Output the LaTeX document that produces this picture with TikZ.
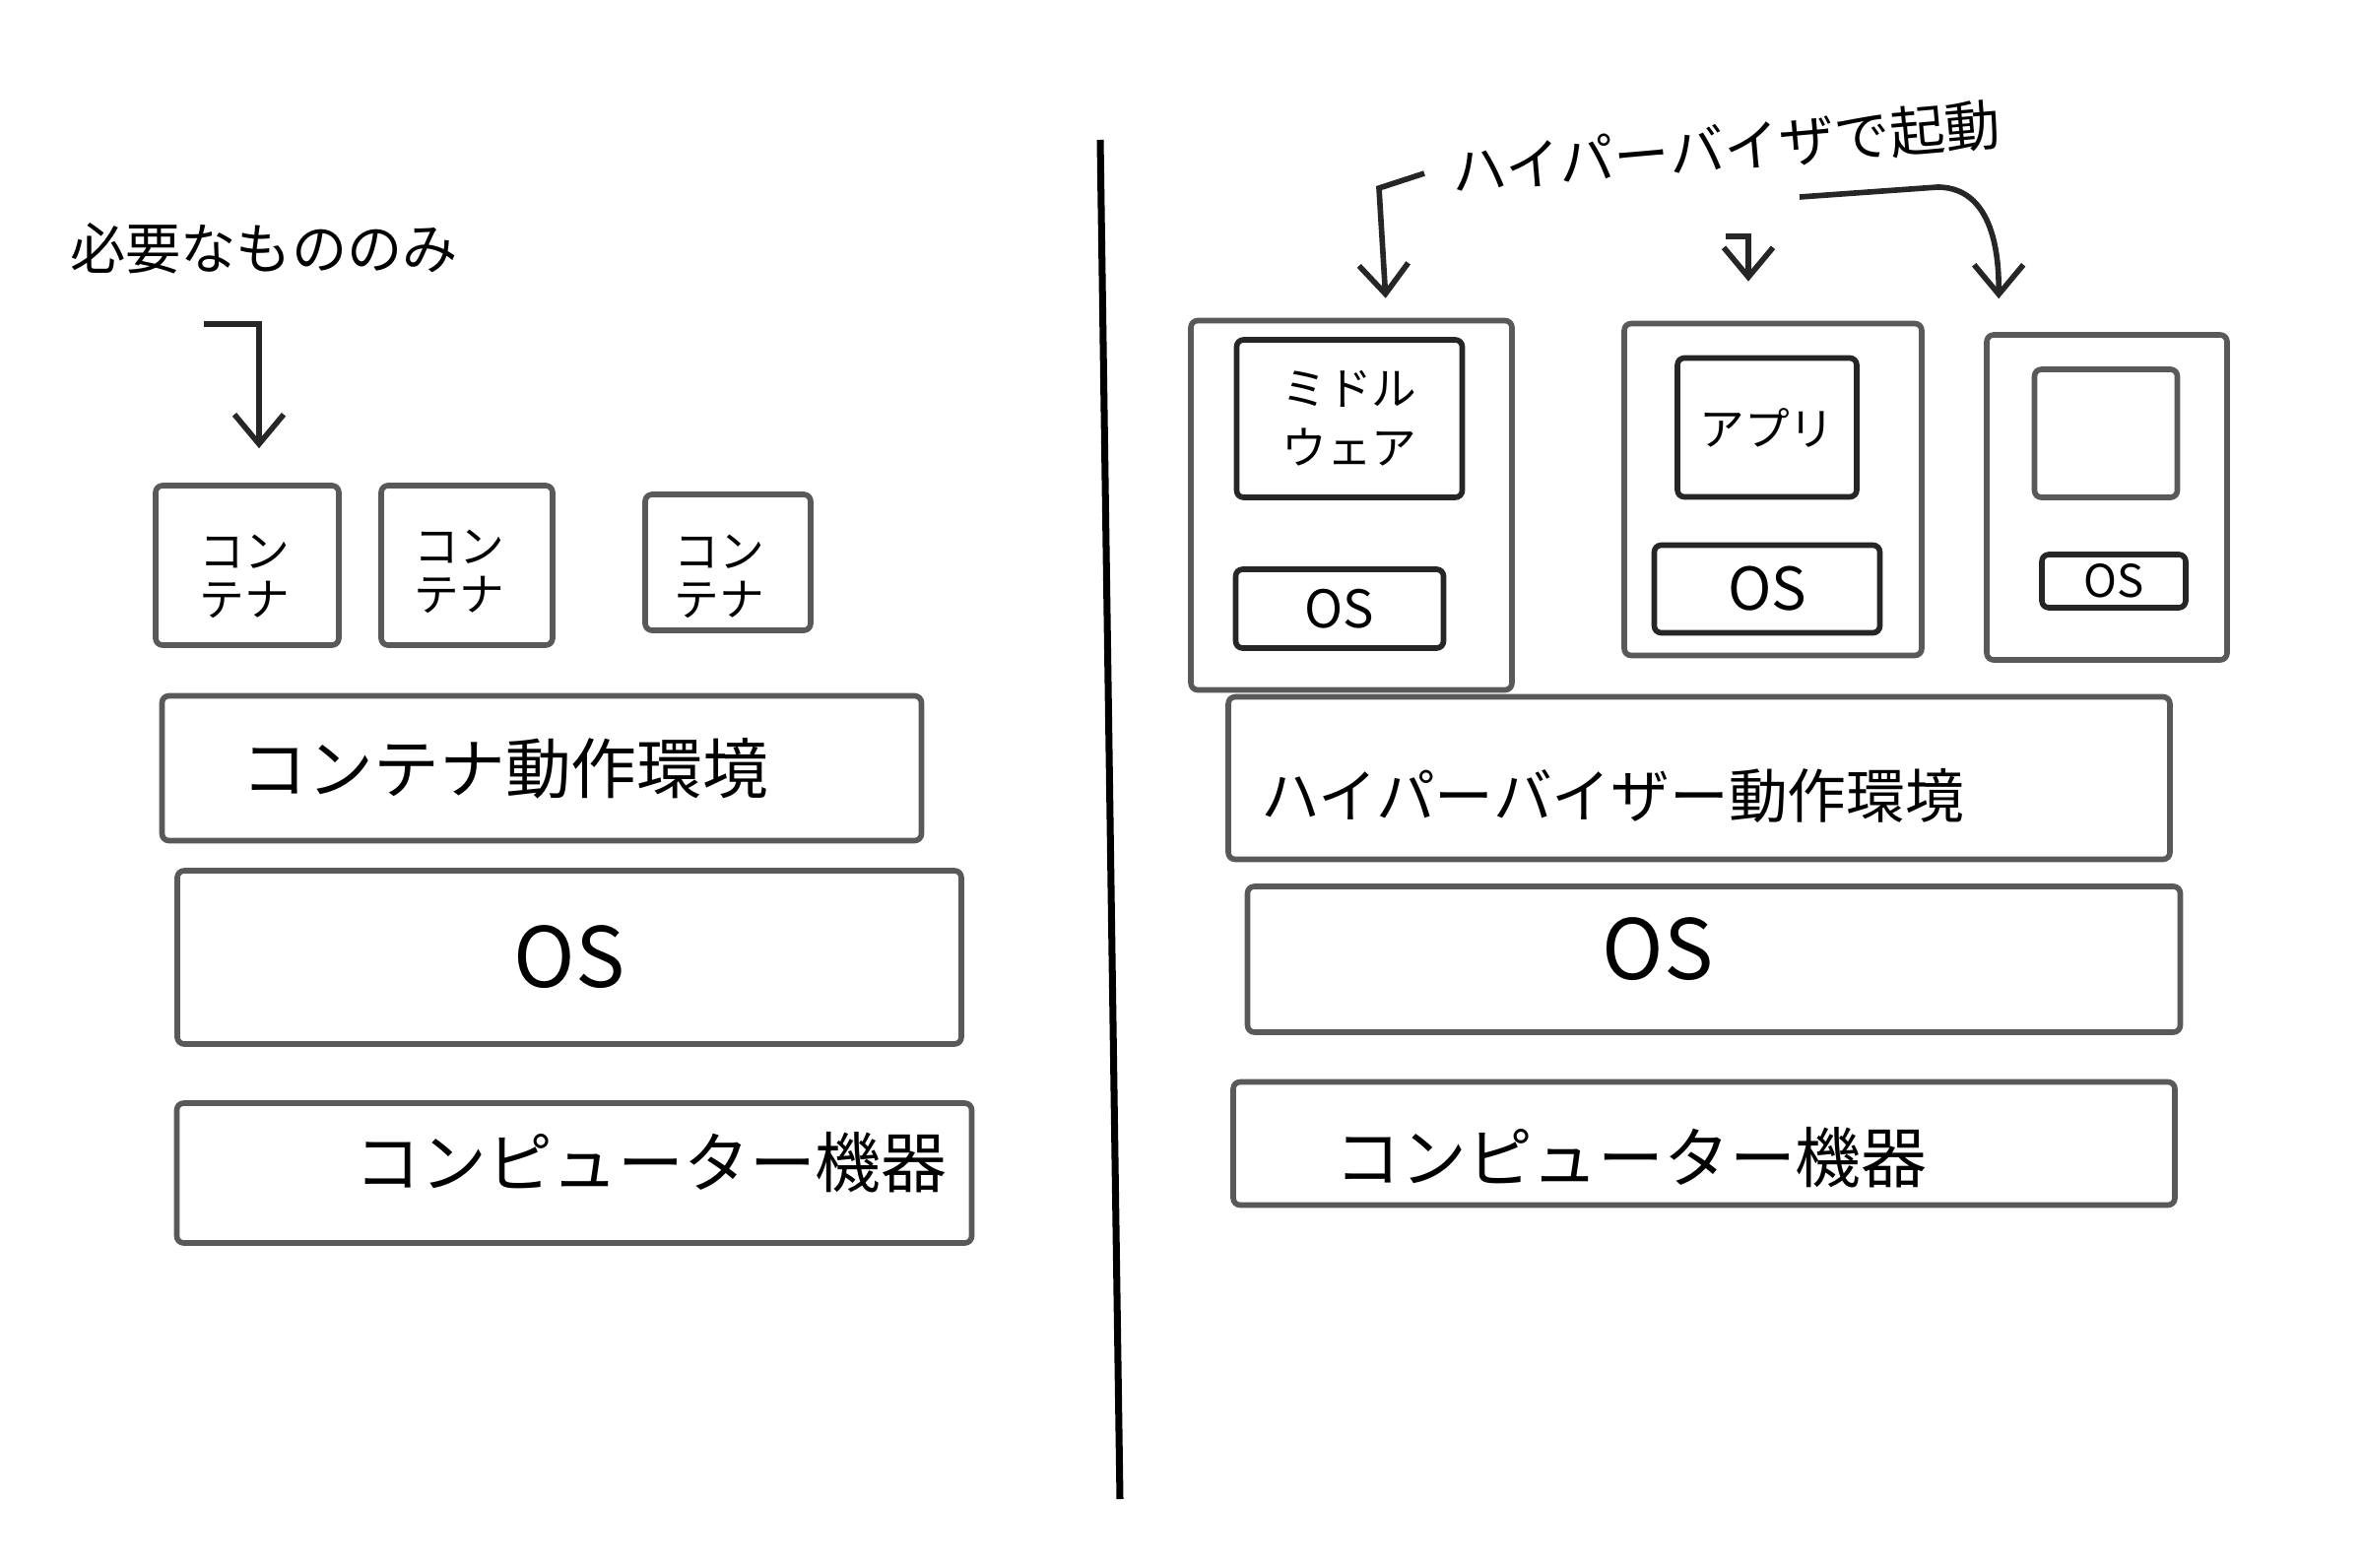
\documentclass[tikz,border=0pt]{standalone}
\usepackage{fontspec}
\newfontfamily\jp{Noto Sans CJK JP}
\usetikzlibrary{arrows.meta, calc}

\begin{document}
\begin{tikzpicture}[x=0.1mm, y=-0.1mm, font=\jp,
    >={Straight Barb[length=3mm, width=5mm]},
    box/.style={draw=black!65, line width=1.6pt, rounded corners=2pt, inner sep=0pt, align=center},
    inbox/.style={box, draw=black!85},
    big/.style={font=\jp\fontsize{19}{22}\selectfont},
    small/.style={font=\jp\fontsize{13}{14}\selectfont},
    arr/.style={->, line width=1.6pt, black!85}]

    \useasboundingbox (0,0) rectangle (2399,1592);

    % 1. 左側: コンテナ
    \node[font=\jp\fontsize{16}{18}\selectfont] (need) at (268,252) {必要なもののみ};
    \coordinate (needhook) at (207,329);

    \node[box, minimum width=18.6mm, minimum height=16.2mm] (c1) at (251,574) {};
    \node[small, align=center] (c1txt) at (248,585) {コン\\テナ};
    \node[box, minimum width=17.4mm, minimum height=16.2mm] (c2) at (474,574) {};
    \node[small, align=center] (c2txt) at (466,580) {コン\\テナ};
    \node[box, minimum width=16.8mm, minimum height=13.8mm] (c3) at (739,571) {};
    \node[small, align=center] (c3txt) at (730,585) {コン\\テナ};

    \draw[arr, shorten >=3.5mm] (needhook) -| ($(c1.north)+(12,0)$);

    % 2. 左側: 土台
    \node[box, minimum width=77.1mm, minimum height=14.7mm] (cenv) at (550,780) {};
    \node[big] (cenvtxt) at (513,780) {コンテナ動作環境};
    \node[box, minimum width=79.6mm, minimum height=17.6mm,
          font=\jp\fontsize{24}{26}\selectfont] (los) at (578,972) {OS};
    \node[box, minimum width=80.7mm, minimum height=14.2mm] (lhw) at (583,1191) {};
    \node[big] (lhwtxt) at (661,1180) {コンピューター機器};

    % 3. 仕切り線
    \coordinate (divtop) at (1117,142);
    \coordinate (divbot) at (1137,1522);
    \draw[line width=2pt, black] (divtop) -- (divbot);

    % 4. 右側: 仮想マシン
    \node[font=\jp\fontsize{16}{18}\selectfont, rotate=5] (hv) at (1752,150) {ハイパーバイザで起動};
    \coordinate (hvl) at (1446,176);
    \coordinate (hvm) at (1752,240);
    \coordinate (hvr) at (1827,200);

    \node[box, minimum width=32.6mm, minimum height=37.5mm] (vm1) at (1372,513) {};
    \node[inbox, minimum width=22.9mm, minimum height=16mm,
          font=\jp\fontsize{13}{17}\selectfont] (mw) at (1370,425) {ミドル\\ウェア};
    \node[inbox, minimum width=21.1mm, minimum height=8mm,
          font=\jp\fontsize{15}{17}\selectfont] (os1) at (1360,618) {OS};

    \node[box, minimum width=30.2mm, minimum height=33.7mm] (vm2) at (1800,497) {};
    \node[inbox, minimum width=18.2mm, minimum height=14.1mm,
          font=\jp\fontsize{13}{15}\selectfont] (app) at (1794,434) {アプリ};
    \node[inbox, minimum width=22.9mm, minimum height=8.9mm,
          font=\jp\fontsize{17}{19}\selectfont] (os2) at (1794,598) {OS};

    \node[box, minimum width=24.4mm, minimum height=33mm] (vm3) at (2139,505) {};
    \node[box, minimum width=14.5mm, minimum height=13mm] (blank) at (2138,440) {};
    \node[inbox, minimum width=14.6mm, minimum height=5.4mm,
          font=\jp\fontsize{13}{15}\selectfont] (os3) at (2146,590) {OS};

    \draw[arr, shorten >=2mm] (hvl) -- ++(-46,15) -- ($(vm1.north)+(36,0)$);
    \draw[arr, shorten >=4mm] (hvm) -| ($(vm2.north)+(-25,0)$);
    \draw[arr, shorten >=3.4mm] (hvr) -- ++(140,-10) to[out=0, in=90] ($(vm3.north west)+(15,0)$);

    % 5. 右側: 土台
    \node[box, minimum width=95.6mm, minimum height=16.5mm] (henv) at (1725,790) {};
    \node[font=\jp\fontsize{17}{20}\selectfont] (henvtxt) at (1637,808) {ハイパーバイザー動作環境};
    \node[box, minimum width=94.7mm, minimum height=14.8mm] (hos) at (1740,974) {};
    \node[font=\jp\fontsize{24}{26}\selectfont] (hostxt) at (1683,964) {OS};
    \node[box, minimum width=95.6mm, minimum height=12.5mm] (hhw) at (1730,1161) {};
    \node[big] (hhwtxt) at (1656,1175) {コンピューター機器};

\end{tikzpicture}
\end{document}
